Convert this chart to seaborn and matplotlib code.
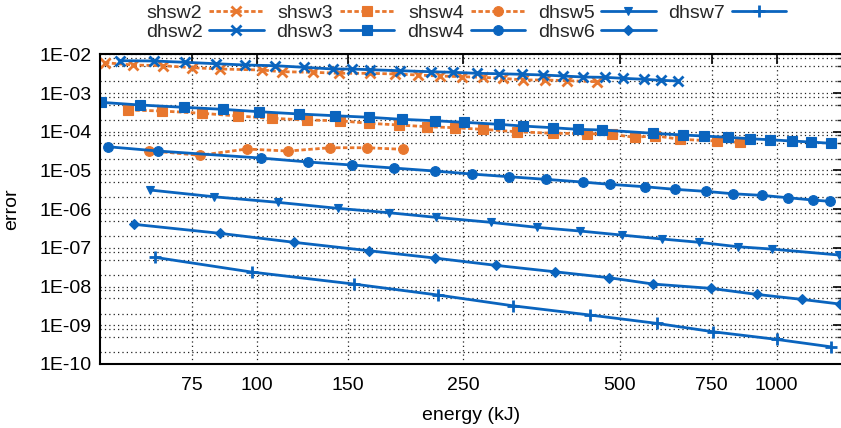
import matplotlib
matplotlib.use("Agg")
import matplotlib.pyplot as plt
import numpy as np
import pandas as pd
import seaborn as sns
from matplotlib.ticker import FixedLocator, FuncFormatter, LogLocator, NullFormatter, NullLocator

sns.set_theme(style="white")
plt.rcParams["font.family"] = ["Liberation Sans", "DejaVu Sans"]

# ---------------- data (energy in kJ, error) ----------------
shsw2_energy = [51.1, 57.9, 66.2, 75.1, 85.1, 102.3, 111.8, 128.6, 144.3, 165.3, 184.6,
                204.7, 225.3, 248.1, 272.3, 297.4, 325.0, 358.7, 395.0, 451.0]
shsw2_error = [6.07e-3, 5.29e-3, 5.07e-3, 4.51e-3, 4.17e-3, 3.93e-3, 3.55e-3, 3.43e-3, 3.23e-3,
               3.23e-3, 3.10e-3, 2.92e-3, 2.75e-3, 2.64e-3, 2.54e-3, 2.40e-3, 2.17e-3, 2.17e-3,
               2.08e-3, 1.96e-3]

shsw3_energy = [56.7, 65.7, 78.6, 92.1, 107.1, 124.9, 144.7, 164.6, 187.9, 212.7, 240.5, 272.6,
                316.5, 371.2, 431.5, 482.0, 534.3, 584.1, 652.3, 767.4, 850.8]
shsw3_error = [3.64e-4, 3.43e-4, 2.99e-4, 2.55e-4, 2.22e-4, 2.01e-4, 1.92e-4, 1.65e-4, 1.49e-4,
               1.35e-4, 1.27e-4, 1.15e-4, 1.00e-4, 9.10e-5, 8.98e-5, 8.57e-5, 7.16e-5, 7.88e-5,
               6.37e-5, 5.75e-5, 5.32e-5]

shsw4_energy = [62.2, 77.8, 95.7, 115.1, 138.5, 162.9, 191.6]
shsw4_error = [3.23e-5, 2.46e-5, 3.57e-5, 3.17e-5, 3.86e-5, 3.86e-5, 3.51e-5]

dhsw2_energy = [54.6, 63.6, 72.9, 83.6, 95.0, 108.7, 123.6, 140.3, 152.4, 165.3, 188.7, 216.6,
                238.7, 265.1, 292.6, 323.6, 356.0, 389.0, 425.1, 468.0, 506.0, 556.8, 599.5, 647.4]
dhsw2_error = [6.84e-3, 6.71e-3, 6.21e-3, 5.71e-3, 5.29e-3, 5.07e-3, 4.61e-3, 4.17e-3, 4.17e-3,
               4.00e-3, 3.77e-3, 3.55e-3, 3.43e-3, 3.23e-3, 3.15e-3, 3.04e-3, 2.92e-3, 2.75e-3,
               2.59e-3, 2.54e-3, 2.40e-3, 2.26e-3, 2.13e-3, 2.04e-3]

dhsw3_energy = [50.2, 59.7, 72.6, 86.1, 101.2, 120.9, 141.5, 164.6, 190.2, 220.4, 250.9, 293.0,
                325.8, 371.2, 415.7, 461.2, 579.4, 661.8, 725.2, 807.7, 889.2, 971.6, 1069.5,
                1165.0, 1271.0]
dhsw3_error = [5.75e-4, 4.90e-4, 4.27e-4, 3.79e-4, 3.29e-4, 2.87e-4, 2.59e-4, 2.36e-4, 2.09e-4,
               1.92e-4, 1.75e-4, 1.55e-4, 1.40e-4, 1.27e-4, 1.15e-4, 1.11e-4, 9.10e-5, 8.22e-5,
               7.74e-5, 7.16e-5, 6.59e-5, 6.21e-5, 5.75e-5, 5.42e-5, 5.02e-5]

dhsw4_energy = [51.7, 64.7, 101.9, 125.8, 152.4, 184.1, 220.4, 259.3, 306.3, 359.8, 424.0, 478.5,
                558.5, 637.9, 730.8, 823.5, 936.5, 1053.6, 1174.0, 1267.0]
dhsw4_error = [4.10e-5, 3.17e-5, 2.09e-5, 1.65e-5, 1.38e-5, 1.15e-5, 9.64e-6, 8.07e-6, 6.87e-6,
               5.89e-6, 5.01e-6, 4.37e-6, 3.79e-6, 3.25e-6, 2.88e-6, 2.50e-6, 2.27e-6, 1.97e-6,
               1.72e-6, 1.59e-6]

dhsw5_energy = [62.4, 82.8, 109.8, 143.2, 180.0, 221.4, 282.4, 345.8, 419.0, 503.8, 603.0, 710.3,
                842.0, 978.8, 1320.0]
dhsw5_error = [3.12e-6, 2.09e-6, 1.50e-6, 1.05e-6, 8.07e-7, 6.14e-7, 4.56e-7, 3.39e-7, 2.72e-7,
               2.14e-7, 1.69e-7, 1.39e-7, 1.07e-7, 9.31e-8, 6.52e-8]

dhsw6_energy = [58.2, 85.1, 118.1, 164.8, 220.4, 288.7, 375.0, 476.9, 579.4, 748.2, 916.0,
                1118.0, 1325.0]
dhsw6_error = [4.05e-7, 2.37e-7, 1.39e-7, 8.41e-8, 5.45e-8, 3.53e-8, 2.41e-8, 1.69e-8, 1.16e-8,
               8.98e-9, 6.28e-9, 4.67e-9, 3.53e-9]

dhsw7_energy = [63.8, 97.9, 154.0, 223.7, 311.0, 437.8, 588.6, 755.9, 1000.7, 1271.0]
dhsw7_error = [5.69e-8, 2.37e-8, 1.16e-8, 6.03e-9, 3.19e-9, 1.84e-9, 1.12e-9, 6.79e-10,
               4.32e-10, 2.78e-10]

x_ticks = [75, 100, 150, 250, 500, 750, 1000]
legend_order = ["shsw2", "dhsw2", "shsw3", "dhsw3", "shsw4", "dhsw4", "dhsw5", "dhsw6", "dhsw7"]

ORANGE = "#e8772e"
BLUE = "#0a64be"

series = [
    ("shsw2", shsw2_energy, shsw2_error, ORANGE, "x", 7.5, "dash"),
    ("shsw3", shsw3_energy, shsw3_error, ORANGE, "s", 6.5, "dash"),
    ("shsw4", shsw4_energy, shsw4_error, ORANGE, "o", 7.0, "dash"),
    ("dhsw2", dhsw2_energy, dhsw2_error, BLUE, "x", 7.5, "solid"),
    ("dhsw3", dhsw3_energy, dhsw3_error, BLUE, "s", 6.5, "solid"),
    ("dhsw4", dhsw4_energy, dhsw4_error, BLUE, "o", 7.0, "solid"),
    ("dhsw5", dhsw5_energy, dhsw5_error, BLUE, "v", 6.0, "solid"),
    ("dhsw6", dhsw6_energy, dhsw6_error, BLUE, "D", 5.5, "solid"),
    ("dhsw7", dhsw7_energy, dhsw7_error, BLUE, "+", 8.5, "solid"),
]

W, H = 841, 428
fig = plt.figure(figsize=(W / 100, H / 100), dpi=100)
ax = fig.add_axes([100 / W, 64 / H, 743 / W, 309.7 / H])

for name, xs, ys, col, mk, ms, ls in series:
    df = pd.DataFrame({"energy": xs, "error": ys})
    linestyle = (0, (1.6, 0.9)) if ls == "dash" else "-"
    sns.lineplot(data=df, x="energy", y="error", ax=ax, color=col, marker=mk,
                 markersize=ms, markeredgecolor=col, markerfacecolor=col,
                 markeredgewidth=2.0 if mk in ("x", "+") else 0.8,
                 linewidth=2.0, linestyle=linestyle, label=name, sort=False,
                 estimator=None, clip_on=True)

ax.set_xscale("log")
ax.set_yscale("log")
ax.set_xlim(50, 1342)
ax.set_ylim(1e-10, 1e-2)

ax.xaxis.set_major_locator(FixedLocator(x_ticks))
ax.xaxis.set_major_formatter(FuncFormatter(lambda v, p: f"{v:g}"))
ax.xaxis.set_minor_locator(NullLocator())
ax.yaxis.set_major_locator(LogLocator(base=10, numticks=20))
ax.yaxis.set_minor_locator(LogLocator(base=10, subs=(2.0, 5.0, 8.0), numticks=20))
ax.yaxis.set_minor_formatter(NullFormatter())
ax.yaxis.set_major_formatter(FuncFormatter(lambda v, p: f"1E-{int(round(-np.log10(v))):02d}"))

ax.grid(True, which="major", axis="both", color="#222222", linestyle=(0, (1, 2.5)), linewidth=0.9)
ax.grid(True, which="minor", axis="y", color="#222222", linestyle=(0, (1, 2.5)), linewidth=0.9)

ax.tick_params(which="major", direction="in", length=7, width=1.2, top=True, right=True,
               labelsize=14, colors="black", pad=9)
ax.tick_params(axis="y", which="major", pad=6)
ax.tick_params(which="minor", direction="in", length=4, width=1.0, top=True, right=True)
for s in ax.spines.values():
    s.set_color("black")
    s.set_linewidth(1.5)

ax.set_xlabel("energy (kJ)", fontsize=14, labelpad=10, color="black")
ax.set_ylabel("error", fontsize=14, color="black")
ax.yaxis.set_label_coords(-0.108, 0.5)

handles, labels = ax.get_legend_handles_labels()
hmap = dict(zip(labels, handles))
ax.legend([hmap[n] for n in legend_order], legend_order, ncol=5, loc="upper center",
          bbox_to_anchor=(466 / W, 1.0), bbox_transform=fig.transFigure, frameon=False,
          markerfirst=False, fontsize=14, handlelength=2.8, handletextpad=0.35,
          columnspacing=0.65, labelspacing=0.1, borderaxespad=0.1, borderpad=0.1)

fig.savefig("out.png", dpi=100)
